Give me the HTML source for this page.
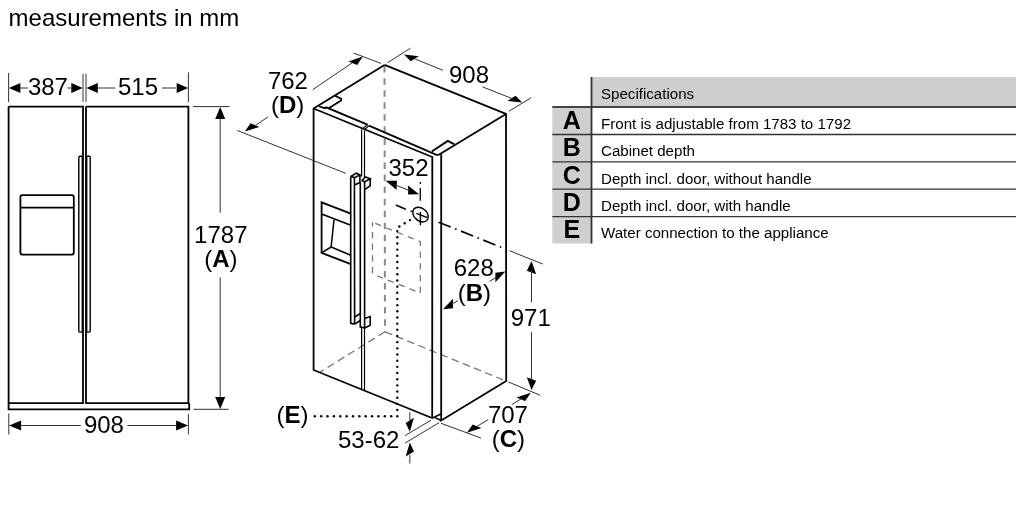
<!DOCTYPE html>
<html><head><meta charset="utf-8"><style>
html,body{margin:0;padding:0;background:#fff;}
svg{display:block;will-change:transform;}
text{font-family:"Liberation Sans",sans-serif;}
</style></head><body>
<svg width="1024" height="512" viewBox="0 0 1024 512">
<rect width="1024" height="512" fill="#fff"/>
<text x="8.6" y="25.6" font-size="24" font-weight="400" text-anchor="start" fill="#000">measurements in mm</text>
<path d="M8.60,106.60 L83.00,106.60 L83.00,403.20 L8.60,403.20 L8.60,106.60" fill="none" stroke="#000" stroke-width="1.8"/>
<path d="M86.00,106.60 L188.40,106.60 L188.40,403.20 L86.00,403.20 L86.00,106.60" fill="none" stroke="#000" stroke-width="1.8"/>
<path d="M8.60,403.20 L8.60,409.30 L189.20,409.30 L189.20,403.20" fill="none" stroke="#000" stroke-width="1.8"/>
<rect x="78.8" y="156.3" width="3.5" height="175.8" rx="1" fill="none" stroke="#000" stroke-width="1.4"/>
<rect x="86.7" y="156.3" width="3.5" height="175.8" rx="1" fill="none" stroke="#000" stroke-width="1.4"/>
<rect x="20.4" y="195.2" width="53.4" height="59.4" rx="2" ry="2" fill="none" stroke="#000" stroke-width="1.8"/>
<path d="M20.40,207.60 L73.80,207.60" fill="none" stroke="#000" stroke-width="1.8"/>
<path d="M8.60,73.00 L8.60,102.20" fill="none" stroke="#333" stroke-width="1.0"/>
<path d="M83.00,73.80 L83.00,101.80" fill="none" stroke="#333" stroke-width="1.0"/>
<path d="M86.00,73.80 L86.00,101.80" fill="none" stroke="#333" stroke-width="1.0"/>
<path d="M188.40,72.30 L188.40,102.40" fill="none" stroke="#333" stroke-width="1.0"/>
<path d="M8.90,88.00 L20.30,83.00 L20.30,93.00Z" fill="#000"/>
<path d="M82.70,88.00 L71.30,93.00 L71.30,83.00Z" fill="#000"/>
<path d="M20.00,88.00 L28.00,88.00" fill="none" stroke="#333" stroke-width="1.0"/>
<path d="M67.50,88.00 L72.00,88.00" fill="none" stroke="#333" stroke-width="1.0"/>
<text x="47.9" y="95.0" font-size="24" font-weight="400" text-anchor="middle" fill="#000">387</text>
<path d="M86.40,88.00 L97.80,83.00 L97.80,93.00Z" fill="#000"/>
<path d="M188.10,88.00 L176.70,93.00 L176.70,83.00Z" fill="#000"/>
<path d="M98.00,88.00 L115.40,88.00" fill="none" stroke="#333" stroke-width="1.0"/>
<path d="M161.90,88.00 L176.00,88.00" fill="none" stroke="#333" stroke-width="1.0"/>
<text x="138.0" y="95.0" font-size="24" font-weight="400" text-anchor="middle" fill="#000">515</text>
<path d="M192.90,106.60 L229.60,106.60" fill="none" stroke="#333" stroke-width="1.0"/>
<path d="M193.50,409.30 L228.60,409.30" fill="none" stroke="#333" stroke-width="1.0"/>
<path d="M220.20,107.00 L225.20,119.00 L215.20,119.00Z" fill="#000"/>
<path d="M220.20,409.00 L215.20,397.00 L225.20,397.00Z" fill="#000"/>
<path d="M220.20,118.00 L220.20,212.70" fill="none" stroke="#333" stroke-width="1.0"/>
<path d="M220.20,277.30 L220.20,398.00" fill="none" stroke="#333" stroke-width="1.0"/>
<text x="220.8" y="242.8" font-size="24" font-weight="400" text-anchor="middle" fill="#000">1787</text>
<text x="220.8" y="266.8" font-size="24" font-weight="400" text-anchor="middle" fill="#000">(<tspan font-weight="700">A</tspan>)</text>
<path d="M8.80,413.40 L8.80,434.50" fill="none" stroke="#333" stroke-width="1.0"/>
<path d="M188.40,414.00 L188.40,434.50" fill="none" stroke="#333" stroke-width="1.0"/>
<path d="M9.10,425.50 L21.10,420.50 L21.10,430.50Z" fill="#000"/>
<path d="M188.10,425.50 L176.10,430.50 L176.10,420.50Z" fill="#000"/>
<path d="M20.00,425.50 L80.80,425.50" fill="none" stroke="#333" stroke-width="1.0"/>
<path d="M127.40,425.50 L176.00,425.50" fill="none" stroke="#333" stroke-width="1.0"/>
<text x="103.9" y="433.2" font-size="24" font-weight="400" text-anchor="middle" fill="#000">908</text>
<path d="M384.50,64.90 L385.00,331.80" fill="none" stroke="#8a8a8a" stroke-width="2.0" stroke-dasharray="6.5,5.55" stroke-dashoffset="-1.2"/>
<path d="M385.00,331.80 L506.20,381.10" fill="none" stroke="#777" stroke-width="1.3" stroke-dasharray="7.6,4.4"/>
<path d="M385.00,331.80 L319.70,372.40" fill="none" stroke="#777" stroke-width="1.3" stroke-dasharray="7.6,4.4"/>
<path d="M372.50,222.20 L420.30,241.60 L420.30,293.00 L372.50,274.00 L372.50,222.20" fill="none" stroke="#777" stroke-width="1.3" stroke-dasharray="6.3,5.4" stroke-dashoffset="-3"/>
<path d="M384.50,64.90 L506.00,113.90 L506.20,381.10 L441.20,420.50 L441.20,154.30" fill="none" stroke="#000" stroke-width="1.8"/>
<path d="M506.00,113.90 L438.40,154.90" fill="none" stroke="#000" stroke-width="1.8"/>
<path d="M384.50,64.90 L313.60,108.50 L313.60,370.00 L432.00,418.00" fill="none" stroke="#000" stroke-width="1.8"/>
<path d="M313.60,108.50 L432.30,157.00 L432.20,418.00" fill="none" stroke="#000" stroke-width="1.8" stroke-linejoin="miter"/>
<path d="M319.10,106.50 L325.00,108.20 L326.20,107.30 L367.50,124.70" fill="none" stroke="#000" stroke-width="1.8"/>
<path d="M369.00,125.60 L436.50,154.90 L438.40,154.90" fill="none" stroke="#000" stroke-width="1.8"/>
<path d="M362.60,128.60 L367.50,124.70" fill="none" stroke="#000" stroke-width="1.2"/>
<path d="M365.00,129.20 L369.00,125.60" fill="none" stroke="#000" stroke-width="1.2"/>
<path d="M329.10,107.90 L341.10,100.60 L341.10,98.80 L335.00,95.60" fill="none" stroke="#000" stroke-width="1.8"/>
<path d="M431.80,151.40 L447.80,140.90 L454.50,144.40" fill="none" stroke="#000" stroke-width="1.8"/>
<path d="M432.00,418.20 L441.20,413.80" fill="none" stroke="#000" stroke-width="1.5"/>
<path d="M434.60,417.30 L441.20,420.50" fill="none" stroke="#000" stroke-width="1.5"/>
<path d="M361.60,129.40 L361.60,176.50" fill="none" stroke="#000" stroke-width="1.2"/>
<path d="M364.50,130.50 L364.50,177.50" fill="none" stroke="#000" stroke-width="1.2"/>
<path d="M361.60,328.00 L361.60,390.00" fill="none" stroke="#000" stroke-width="1.2"/>
<path d="M364.50,328.00 L364.50,391.00" fill="none" stroke="#000" stroke-width="1.2"/>
<path d="M350.70,176.40 L350.70,323.40 L354.70,324.10" fill="none" stroke="#000" stroke-width="1.6"/>
<path d="M350.70,176.40 L356.40,173.20 L359.90,175.00 L354.40,177.60 L350.70,176.40" fill="none" stroke="#000" stroke-width="1.6"/>
<path d="M354.40,177.60 L354.60,324.00" fill="none" stroke="#000" stroke-width="1.6"/>
<path d="M359.90,175.00 L359.90,182.60 L354.40,184.90" fill="none" stroke="#000" stroke-width="1.6"/>
<path d="M360.30,182.60 L360.30,320.00" fill="none" stroke="#000" stroke-width="1.6"/>
<path d="M354.70,317.00 L360.30,313.50" fill="none" stroke="#000" stroke-width="1.6"/>
<path d="M354.70,324.10 L360.30,320.50" fill="none" stroke="#000" stroke-width="1.6"/>
<path d="M361.70,180.80 L365.50,177.00 L370.20,178.80 L364.90,181.70 L361.70,180.80" fill="none" stroke="#000" stroke-width="1.6"/>
<path d="M370.20,178.80 L370.20,185.80 L364.90,189.30" fill="none" stroke="#000" stroke-width="1.6"/>
<path d="M364.60,181.70 L364.60,327.70 L360.30,327.00 L360.30,320.00" fill="none" stroke="#000" stroke-width="1.6"/>
<path d="M364.60,318.50 L370.20,316.60 L370.20,325.30 L364.60,328.00" fill="none" stroke="#000" stroke-width="1.6"/>
<path d="M350.20,213.30 L321.60,202.30 L321.60,252.90 L350.20,263.80" fill="none" stroke="#000" stroke-width="1.8"/>
<path d="M321.60,214.00 L350.20,225.00" fill="none" stroke="#000" stroke-width="1.8"/>
<path d="M334.00,219.90 L331.10,247.00 L350.20,255.00" fill="none" stroke="#000" stroke-width="1.5"/>
<path d="M321.60,252.90 L331.10,247.00" fill="none" stroke="#000" stroke-width="1.5"/>
<ellipse cx="420.5" cy="214.6" rx="8.6" ry="6.3" transform="rotate(40 420.5 214.6)" fill="none" stroke="#000" stroke-width="1.5"/>
<path d="M420.40,212.00 L420.40,225.20" fill="none" stroke="#000" stroke-width="1.4"/>
<path d="M416.40,213.40 L427.30,217.60" fill="none" stroke="#000" stroke-width="1.4"/>
<path d="M395.80,205.00 L405.80,209.20" fill="none" stroke="#000" stroke-width="1.6"/>
<path d="M410.60,211.00 L411.80,211.50" fill="none" stroke="#000" stroke-width="1.6"/>
<path d="M438.60,222.20 L502.00,247.60" fill="none" stroke="#000" stroke-width="1.7" stroke-dasharray="13,4.8,1.5,4.8"/>
<circle cx="410.00" cy="220.10" r="1.2" fill="#000"/>
<circle cx="404.70" cy="223.30" r="1.2" fill="#000"/>
<circle cx="399.40" cy="226.50" r="1.2" fill="#000"/>
<circle cx="397.30" cy="231.10" r="1.2" fill="#000"/>
<circle cx="397.30" cy="237.27" r="1.2" fill="#000"/>
<circle cx="397.30" cy="243.44" r="1.2" fill="#000"/>
<circle cx="397.30" cy="249.61" r="1.2" fill="#000"/>
<circle cx="397.30" cy="255.78" r="1.2" fill="#000"/>
<circle cx="397.30" cy="261.95" r="1.2" fill="#000"/>
<circle cx="397.30" cy="268.12" r="1.2" fill="#000"/>
<circle cx="397.30" cy="274.29" r="1.2" fill="#000"/>
<circle cx="397.30" cy="280.46" r="1.2" fill="#000"/>
<circle cx="397.30" cy="286.63" r="1.2" fill="#000"/>
<circle cx="397.30" cy="292.80" r="1.2" fill="#000"/>
<circle cx="397.30" cy="298.97" r="1.2" fill="#000"/>
<circle cx="397.30" cy="305.14" r="1.2" fill="#000"/>
<circle cx="397.30" cy="311.31" r="1.2" fill="#000"/>
<circle cx="397.30" cy="317.48" r="1.2" fill="#000"/>
<circle cx="397.30" cy="323.65" r="1.2" fill="#000"/>
<circle cx="397.30" cy="329.82" r="1.2" fill="#000"/>
<circle cx="397.30" cy="335.99" r="1.2" fill="#000"/>
<circle cx="397.30" cy="342.16" r="1.2" fill="#000"/>
<circle cx="397.30" cy="348.33" r="1.2" fill="#000"/>
<circle cx="397.30" cy="354.50" r="1.2" fill="#000"/>
<circle cx="397.30" cy="360.67" r="1.2" fill="#000"/>
<circle cx="397.30" cy="366.84" r="1.2" fill="#000"/>
<circle cx="397.30" cy="373.01" r="1.2" fill="#000"/>
<circle cx="397.30" cy="379.18" r="1.2" fill="#000"/>
<circle cx="397.30" cy="385.35" r="1.2" fill="#000"/>
<circle cx="397.30" cy="391.52" r="1.2" fill="#000"/>
<circle cx="397.30" cy="397.69" r="1.2" fill="#000"/>
<circle cx="397.30" cy="403.86" r="1.2" fill="#000"/>
<circle cx="397.30" cy="410.03" r="1.2" fill="#000"/>
<circle cx="397.30" cy="416.20" r="1.2" fill="#000"/>
<circle cx="391.20" cy="416.20" r="1.2" fill="#000"/>
<circle cx="384.83" cy="416.20" r="1.2" fill="#000"/>
<circle cx="378.47" cy="416.20" r="1.2" fill="#000"/>
<circle cx="372.10" cy="416.20" r="1.2" fill="#000"/>
<circle cx="365.73" cy="416.20" r="1.2" fill="#000"/>
<circle cx="359.37" cy="416.20" r="1.2" fill="#000"/>
<circle cx="353.00" cy="416.20" r="1.2" fill="#000"/>
<circle cx="346.63" cy="416.20" r="1.2" fill="#000"/>
<circle cx="340.27" cy="416.20" r="1.2" fill="#000"/>
<circle cx="333.90" cy="416.20" r="1.2" fill="#000"/>
<circle cx="327.53" cy="416.20" r="1.2" fill="#000"/>
<circle cx="321.17" cy="416.20" r="1.2" fill="#000"/>
<circle cx="314.80" cy="416.20" r="1.2" fill="#000"/>
<path d="M353.70,53.10 L381.00,63.40" fill="none" stroke="#333" stroke-width="1.0"/>
<path d="M237.40,130.50 L345.90,173.40" fill="none" stroke="#333" stroke-width="1.0"/>
<path d="M362.70,56.40 L357.30,65.09 L348.49,61.54Z" fill="#000"/>
<path d="M244.80,131.50 L259.38,126.91 L250.57,123.37Z" fill="#000"/>
<path d="M352.00,63.00 L312.70,89.70" fill="none" stroke="#333" stroke-width="1.0"/>
<path d="M255.00,125.70 L267.90,117.00" fill="none" stroke="#333" stroke-width="1.0"/>
<text x="287.9" y="89.3" font-size="24" font-weight="400" text-anchor="middle" fill="#000">762</text>
<text x="287.6" y="113.1" font-size="24" font-weight="400" text-anchor="middle" fill="#000">(<tspan font-weight="700">D</tspan>)</text>
<path d="M387.70,62.70 L410.30,48.20" fill="none" stroke="#333" stroke-width="1.0"/>
<path d="M508.90,111.30 L531.40,97.60" fill="none" stroke="#333" stroke-width="1.0"/>
<path d="M404.10,54.50 L410.67,61.37 L418.83,56.31Z" fill="#000"/>
<path d="M522.20,102.50 L507.42,100.82 L515.58,95.76Z" fill="#000"/>
<path d="M414.00,58.50 L442.90,70.30" fill="none" stroke="#333" stroke-width="1.0"/>
<path d="M482.50,86.90 L512.00,98.50" fill="none" stroke="#333" stroke-width="1.0"/>
<text x="469.0" y="82.6" font-size="24" font-weight="400" text-anchor="middle" fill="#000">908</text>
<path d="M385.60,180.80 L396.90,180.80 L396.60,190.10Z" fill="#000"/>
<path d="M419.10,194.20 L408.10,185.40 L408.10,194.50Z" fill="#000"/>
<path d="M395.00,184.80 L410.00,190.80" fill="none" stroke="#333" stroke-width="1.0"/>
<path d="M420.30,188.00 L420.30,200.80" fill="none" stroke="#000" stroke-width="1.3"/>
<path d="M420.30,182.00 L420.30,184.00" fill="none" stroke="#000" stroke-width="1.3"/>
<text x="408.5" y="175.8" font-size="24" font-weight="400" text-anchor="middle" fill="#000">352</text>
<path d="M505.40,271.40 L495.40,272.80 L495.40,282.20Z" fill="#000"/>
<path d="M443.00,309.30 L453.00,298.80 L453.00,308.20Z" fill="#000"/>
<path d="M489.30,281.50 L496.00,277.50" fill="none" stroke="#333" stroke-width="1.0"/>
<path d="M452.00,304.00 L457.70,300.80" fill="none" stroke="#333" stroke-width="1.0"/>
<text x="473.8" y="276.2" font-size="24" font-weight="400" text-anchor="middle" fill="#000">628</text>
<text x="474.3" y="300.5" font-size="24" font-weight="400" text-anchor="middle" fill="#000">(<tspan font-weight="700">B</tspan>)</text>
<path d="M509.50,250.70 L542.70,264.00" fill="none" stroke="#333" stroke-width="1.0"/>
<path d="M508.30,381.90 L540.00,395.20" fill="none" stroke="#333" stroke-width="1.0"/>
<path d="M531.50,261.00 L536.14,274.37 L526.86,270.63Z" fill="#000"/>
<path d="M531.50,390.00 L536.14,380.87 L526.86,377.13Z" fill="#000"/>
<path d="M531.50,270.00 L531.50,302.30" fill="none" stroke="#333" stroke-width="1.0"/>
<path d="M531.50,332.20 L531.50,380.00" fill="none" stroke="#333" stroke-width="1.0"/>
<text x="530.8" y="325.7" font-size="24" font-weight="400" text-anchor="middle" fill="#000">971</text>
<path d="M441.00,423.30 L481.00,438.10" fill="none" stroke="#333" stroke-width="1.0"/>
<path d="M466.90,432.70 L481.49,428.12 L472.68,424.58Z" fill="#000"/>
<path d="M530.90,392.80 L525.12,400.92 L516.31,397.38Z" fill="#000"/>
<path d="M476.00,427.00 L488.20,419.60" fill="none" stroke="#333" stroke-width="1.0"/>
<path d="M512.00,404.50 L522.00,398.30" fill="none" stroke="#333" stroke-width="1.0"/>
<text x="507.9" y="423.1" font-size="24" font-weight="400" text-anchor="middle" fill="#000">707</text>
<text x="508.3" y="447.1" font-size="24" font-weight="400" text-anchor="middle" fill="#000">(<tspan font-weight="700">C</tspan>)</text>
<text x="292.4" y="423.0" font-size="24" font-weight="400" text-anchor="middle" fill="#000">(<tspan font-weight="700">E</tspan>)</text>
<text x="368.7" y="448.4" font-size="24" font-weight="400" text-anchor="middle" fill="#000">53-62</text>
<path d="M405.00,435.60 L431.00,420.20" fill="none" stroke="#333" stroke-width="1.0"/>
<path d="M405.00,443.10 L439.20,422.60" fill="none" stroke="#333" stroke-width="1.0"/>
<path d="M409.80,431.70 L405.68,422.96 L413.92,417.84Z" fill="#000"/>
<path d="M409.80,442.50 L405.68,456.56 L413.92,451.44Z" fill="#000"/>
<path d="M409.80,412.30 L409.80,420.00" fill="none" stroke="#333" stroke-width="1.0"/>
<path d="M409.80,455.00 L409.80,463.60" fill="none" stroke="#333" stroke-width="1.0"/>
<rect x="591.5" y="77" width="424.5" height="30" fill="#cfcfcf"/>
<rect x="552.3" y="107" width="39.2" height="136.5" fill="#cfcfcf"/>
<path d="M552.30,106.90 L1016.00,106.90" fill="none" stroke="#444" stroke-width="2.0"/>
<path d="M552.30,134.50 L1016.00,134.50" fill="none" stroke="#333" stroke-width="1.3"/>
<path d="M552.30,161.80 L1016.00,161.80" fill="none" stroke="#333" stroke-width="1.3"/>
<path d="M552.30,189.20 L1016.00,189.20" fill="none" stroke="#333" stroke-width="1.3"/>
<path d="M552.30,216.60 L1016.00,216.60" fill="none" stroke="#333" stroke-width="1.3"/>
<path d="M591.50,77.00 L591.50,243.50" fill="none" stroke="#333" stroke-width="1.8"/>
<text x="601.0" y="99.2" font-size="15.1" font-weight="400" text-anchor="start" fill="#000">Specifications</text>
<text x="571.9" y="128.8" font-size="25" font-weight="700" text-anchor="middle" fill="#000">A</text>
<text x="601.0" y="128.8" font-size="15.1" font-weight="400" text-anchor="start" fill="#000">Front is adjustable from 1783 to 1792</text>
<text x="571.9" y="156.3" font-size="25" font-weight="700" text-anchor="middle" fill="#000">B</text>
<text x="601.0" y="156.3" font-size="15.1" font-weight="400" text-anchor="start" fill="#000">Cabinet depth</text>
<text x="571.9" y="183.60000000000002" font-size="25" font-weight="700" text-anchor="middle" fill="#000">C</text>
<text x="601.0" y="183.60000000000002" font-size="15.1" font-weight="400" text-anchor="start" fill="#000">Depth incl. door, without handle</text>
<text x="571.9" y="211.0" font-size="25" font-weight="700" text-anchor="middle" fill="#000">D</text>
<text x="601.0" y="211.0" font-size="15.1" font-weight="400" text-anchor="start" fill="#000">Depth incl. door, with handle</text>
<text x="571.9" y="238.4" font-size="25" font-weight="700" text-anchor="middle" fill="#000">E</text>
<text x="601.0" y="238.4" font-size="15.1" font-weight="400" text-anchor="start" fill="#000">Water connection to the appliance</text>
</svg></body></html>
